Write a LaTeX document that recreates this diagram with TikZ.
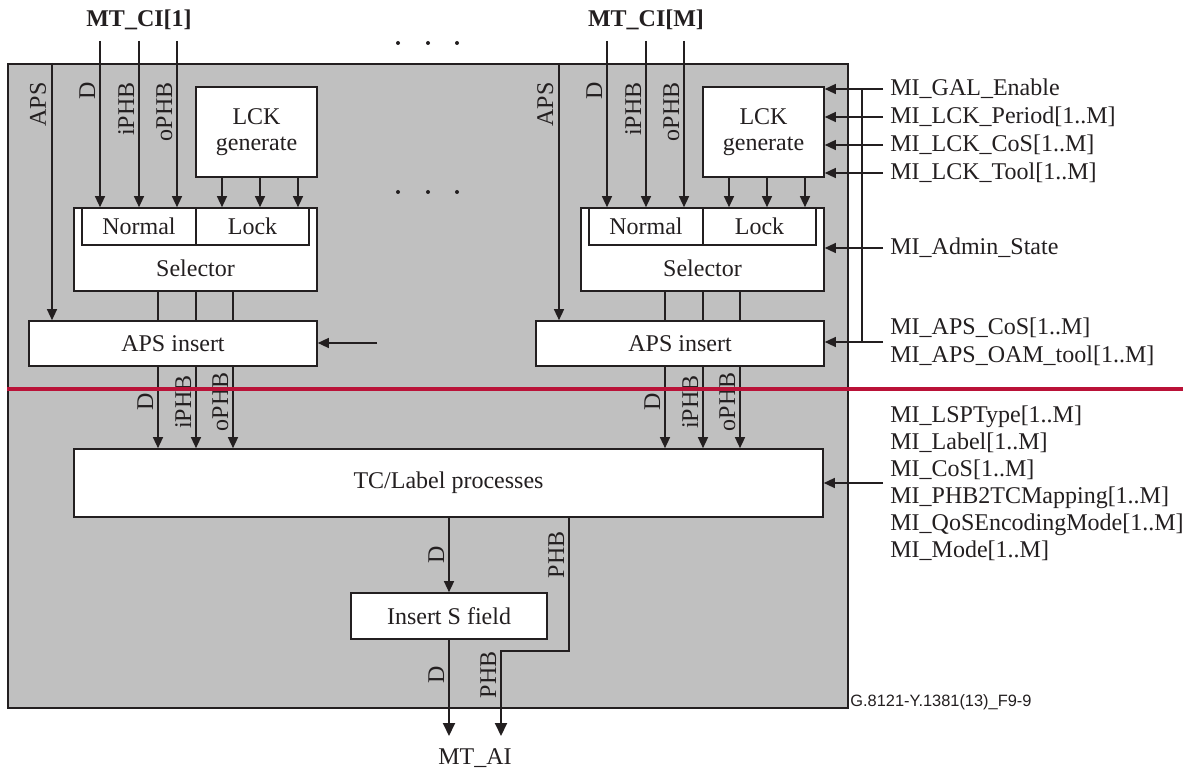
\documentclass[tikz,border=0pt]{standalone}
\usepackage{fontspec}
\setmainfont{Liberation Serif}
\newfontfamily\figsans{Liberation Sans}
\usetikzlibrary{arrows.meta}
\definecolor{inkc}{RGB}{35,31,32}
\definecolor{panelgray}{RGB}{192,192,192}
\definecolor{dividerred}{RGB}{186,18,56}
\begin{document}
\begin{tikzpicture}[x=0.5pt,y=-0.5pt,
  every node/.style={font=\fontsize{12pt}{14pt}\selectfont, text=inkc},
  box/.style={draw=inkc, fill=white, line width=0.8pt, inner sep=0pt},
  arr/.style={draw=inkc, line width=0.65pt, -{Triangle[length=5.5pt,width=5pt]}},
  outarr/.style={draw=inkc, line width=1pt, -{Triangle[length=6.5pt,width=6pt]}},
  wire/.style={draw=inkc, line width=0.65pt},
  vtop/.style={rotate=90, anchor=base east, inner sep=0pt},
  vmid/.style={rotate=90, anchor=base, inner sep=0pt},
  milab/.style={anchor=west, inner xsep=3.5pt, inner ysep=0pt, align=left},
  boldlab/.style={font=\fontsize{12pt}{14pt}\selectfont\bfseries},
]
\fill[white] (0,0) rectangle (1189,774);
\useasboundingbox (0,0) rectangle (1189,774);

% panel
\node[draw=inkc, fill=panelgray, line width=0.8pt, inner sep=0pt,
      minimum width=420pt, minimum height=322pt, anchor=north west] (frame) at (7,63) {};

\node[boldlab] (ci1) at (139,20) {MT\_CI[1]};
\node[boldlab] (ciM) at (646,20) {MT\_CI[M]};

\node[box, minimum width=374.5pt, minimum height=34pt] (tc) at (448.5,483) {TC/Label processes};

\foreach \i/\dx in {1/0,2/507}{
\begin{scope}[shift={(\dx,0)}]
  \node[box, minimum width=60.5pt, minimum height=45pt, align=center,
        font=\fontsize{12pt}{13pt}\selectfont] (lck\i) at (256.5,132) {LCK\\generate};
  \node[box, minimum width=121.5pt, minimum height=41.5pt] (sel\i) at (195.5,249.5) {};
  \node[box, minimum width=57pt, minimum height=18.5pt] (nrm\i) at (139,226.5) {Normal};
  \node[box, minimum width=56.5pt, minimum height=18.5pt] (lok\i) at (252.5,226.5) {Lock};
  \node (seltx\i) at (195.5,268) {Selector};
  \node[box, minimum width=144pt, minimum height=22.5pt] (aps\i) at (173,343.5) {APS insert};
  \coordinate (apsin\i) at (52,63);
  \draw[arr] (apsin\i) -- (apsin\i |- aps\i.north);
  \node[vtop] at (46,82) {APS};
  \foreach \x/\t/\k in {100/D/a,139/iPHB/b,177/oPHB/c}{
    \coordinate (top\i\k) at (\x,41);
    \draw[arr] (top\i\k) -- (top\i\k |- sel\i.north);
    \node[vtop] at (\x-5,82) {\t};
  }
  \foreach \x in {222,260,298}{
    \draw[arr] (\x,0 |- lck\i.south) -- (\x,0 |- sel\i.north);
  }
  \foreach \x/\t in {158/D,196/iPHB,233/oPHB}{
    \draw[wire] (\x,0 |- sel\i.south) -- (\x,0 |- aps\i.north);
    \draw[arr] (\x,0 |- aps\i.south) -- (\x,0 |- tc.north);
    \node[vmid] at (\x-5,402) {\t};
  }
\end{scope}
}

\coordinate (apsL) at (377,343);
\draw[arr] (apsL) -- (apsL -| aps1.east);

\foreach \x in {398,428,457}{
  \fill[inkc] (\x,43) circle (2);
  \fill[inkc] (\x,192) circle (2);
}

% management inputs
\node[milab] (gal) at (883,89) {MI\_GAL\_Enable};
\node[milab] (per) at (883,117) {MI\_LCK\_Period[1..M]};
\node[milab] (lcos) at (883,145) {MI\_LCK\_CoS[1..M]};
\node[milab] (ltool) at (883,173) {MI\_LCK\_Tool[1..M]};
\foreach \n in {gal,per,lcos,ltool}{
  \draw[arr] (\n.west) -- (\n.west -| lck2.east);
}
\node[milab] (adm) at (883,248) {MI\_Admin\_State};
\draw[arr] (adm.west) -- (adm.west -| sel2.east);
\node[milab] (apsmi) at (883,342) {MI\_APS\_CoS[1..M]\\MI\_APS\_OAM\_tool[1..M]};
\draw[arr] (apsmi.west) -- (apsmi.west -| aps2.east);
\draw[wire] (862,0 |- gal.west) -- (862,0 |- apsmi.west);

\node[milab, font=\fontsize{12pt}{13.5pt}\selectfont] (tcmi) at (883,483)
  {MI\_LSPType[1..M]\\MI\_Label[1..M]\\MI\_CoS[1..M]\\MI\_PHB2TCMapping[1..M]\\MI\_QoSEncodingMode[1..M]\\MI\_Mode[1..M]};
\draw[arr] (tcmi.west) -- (tcmi.west -| tc.east);

% bottom
\node[box, minimum width=98pt, minimum height=23pt] (ins) at (449,616) {Insert S field};
\draw[arr] (tc.south -| ins.north) -- (ins.north);
\coordinate (aiD) at (449,736);
\coordinate (aiP) at (501,736);
\draw[outarr] (ins.south) -- (aiD);
\draw[outarr] (569,0 |- tc.south) -- (569,651) -| (aiP);
\node (ai) at (475,758) {MT\_AI};
\node[vmid] at (444,555) {D};
\node[vmid] at (564,555) {PHB};
\node[vmid] at (444,675) {D};
\node[vmid] at (496,675) {PHB};

\node[anchor=west, inner sep=0pt, font=\figsans\fontsize{8.2pt}{10pt}\selectfont] (ref) at (850,702) {G.8121-Y.1381(13)\_F9-9};

% divider
\draw[dividerred, line width=2pt] (7,389) -- (1183,389);
\end{tikzpicture}
\end{document}
